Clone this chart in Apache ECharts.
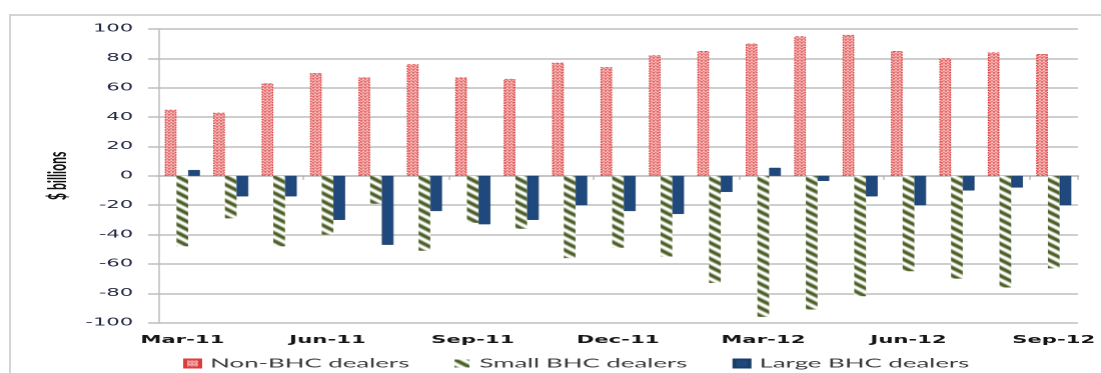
<!DOCTYPE html>
<html>
<head>
<meta charset="utf-8">
<script src="https://cdn.jsdelivr.net/npm/echarts@6/dist/echarts.min.js"></script>
<style>
  html, body { margin: 0; padding: 0; background: #fff; overflow: hidden; }
  #stage { position: absolute; left: 0; top: 0; width: 1101px; height: 373px; overflow: hidden; }
  #frame { position: absolute; left: 9px; top: 14px; width: 1200px; height: 500px;
           border-left: 2px solid #d4d4d4; border-top: 2px solid #d4d4d4; }
  /* the chart is laid out narrow and widened, giving the wide lettering of the figure */
  #chart { position: absolute; left: 0; top: 0; width: 550px; height: 373px;
           transform: scaleX(2.0018); transform-origin: 0 0; }
</style>
</head>
<body>
<div id="stage">
  <div id="frame"></div>
  <div id="chart"></div>
</div>
<script>
// Monthly dealer positions, $ billions
const categories = ['Mar-11','Apr-11','May-11','Jun-11','Jul-11','Aug-11','Sep-11','Oct-11','Nov-11','Dec-11',
                    'Jan-12','Feb-12','Mar-12','Apr-12','May-12','Jun-12','Jul-12','Aug-12','Sep-12'];
const nonBHC   = [45, 43, 63, 70, 67, 76, 67, 66, 77, 74, 82, 85, 90, 95, 96, 85, 80, 84, 83];
const smallBHC = [-48, -29, -48, -40, -19, -51, -32, -36, -56, -49, -55, -73, -96, -91, -82, -65, -70, -76, -63];
const largeBHC = [4, -14, -14, -30, -47, -24, -33, -30, -20, -24, -26, -11, 5.5, -3.5, -14, -20, -10, -8, -20];
const seriesNames = ['Non-BHC dealers', 'Small BHC dealers', 'Large BHC dealers'];
const yMin = -100, yMax = 100, yStep = 20;

// red dotted fill
function dotTile() {
  const c = document.createElement('canvas');
  c.width = 2; c.height = 3;
  const g = c.getContext('2d');
  const px = [['#de2e2e', '#f6c0c0'], ['#e64a4a', '#ffffff'], ['#ffffff', '#e24040']];
  for (let y = 0; y < 3; y++) for (let x = 0; x < 2; x++) { g.fillStyle = px[y][x]; g.fillRect(x, y, 1, 1); }
  return c;
}
// olive diagonal hatching
function hatchTile() {
  const c = document.createElement('canvas');
  c.width = 8; c.height = 8;
  const g = c.getContext('2d');
  g.fillStyle = '#ffffff'; g.fillRect(0, 0, 8, 8);
  g.strokeStyle = '#4a5e24'; g.lineWidth = 2.9;
  for (let k = -1; k <= 1; k++) {
    g.beginPath(); g.moveTo(k * 8 - 2, -2); g.lineTo(k * 8 + 10, 10); g.stroke();
  }
  return c;
}

const chart = echarts.init(document.getElementById('chart'), null, { renderer: 'canvas', devicePixelRatio: 2 });
const gridColor = '#bdbdbd';
const barW = 5.85;

chart.setOption({
  animation: false,
  grid: { left: 79, right: 6, top: 29, bottom: 50.3, containLabel: false },
  legend: {
    left: 91.5, top: 357, padding: 0, itemWidth: 7.5, itemHeight: 8, itemGap: 22.5,
    icon: 'rect',
    textStyle: { fontFamily: 'Lato', fontSize: 12.9, color: '#3a3a3a' },
    data: seriesNames
  },
  xAxis: [
    {
      type: 'category', data: categories, position: 'bottom',
      axisLine: { show: false, onZero: false }, axisTick: { show: false },
      axisLabel: { interval: 2, margin: 12, fontFamily: 'DejaVu Sans', fontWeight: 'bold', fontSize: 10.6, color: '#151515' }
    },
    {
      type: 'category', data: categories, position: 'bottom',
      axisLine: { show: true, onZero: true, lineStyle: { color: gridColor, width: 1.5 } },
      axisTick: { show: true, length: 4, interval: (i) => i % 3 === 0 && i > 0, lineStyle: { color: '#a8a8a8', width: 0.6 } },
      axisLabel: { show: false }
    }
  ],
  yAxis: {
    type: 'value', min: yMin, max: yMax, interval: yStep,
    name: '$ billions', nameLocation: 'middle', nameGap: 44, nameRotate: 90, nameMoveOverlap: false,
    nameTextStyle: { fontFamily: 'Lato', fontWeight: 'bold', fontSize: 12.2, color: '#111' },
    axisLine: { show: true, lineStyle: { color: gridColor, width: 0.75 } },
    axisTick: { show: true, length: 5, lineStyle: { color: gridColor, width: 1.5 } },
    splitLine: { show: true, lineStyle: { color: gridColor, width: 1.5 } },
    axisLabel: { margin: 12.5, fontFamily: 'DejaVu Sans', fontSize: 10.5, color: '#1e2640' }
  },
  series: [
    {
      name: seriesNames[0], type: 'bar', data: nonBHC, barWidth: barW, barGap: '0%', xAxisIndex: 0,
      itemStyle: { color: { image: dotTile(), repeat: 'repeat' }, borderColor: '#dc3c3c', borderWidth: 0.6, borderType: [1.5, 1] }
    },
    {
      name: seriesNames[1], type: 'bar', data: smallBHC, barWidth: barW, barGap: '0%', xAxisIndex: 0,
      itemStyle: { color: { image: hatchTile(), repeat: 'repeat' } }
    },
    {
      name: seriesNames[2], type: 'bar', data: largeBHC, barWidth: barW, barGap: '0%', xAxisIndex: 0,
      itemStyle: { color: '#1f497d', borderColor: '#1a3d69', borderWidth: 0.4 }
    }
  ]
});
</script>
</body>
</html>
